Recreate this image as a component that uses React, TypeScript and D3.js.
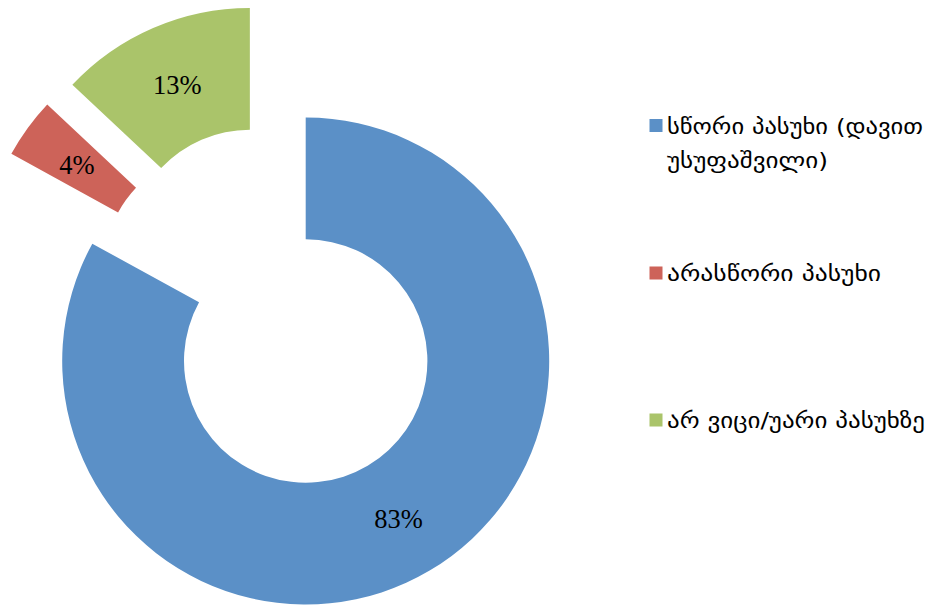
import React from "react";
import * as d3 from "d3";

const categories = ["სწორი პასუხი (დავით უსუფაშვილი)", "არასწორი პასუხი", "არ ვიცი/უარი პასუხზე"];
const legendLines = [["სწორი პასუხი (დავით", "უსუფაშვილი)"], ["არასწორი პასუხი"], ["არ ვიცი/უარი პასუხზე"]];
const values = [83, 4, 13];
const labels = ["83%", "4%", "13%"];
const colors = ["#5B90C7", "#CD6359", "#AAC46A"];
const explodeDist = [0, 121, 123];
const explodeAngleDeg = [0, 318, 333];
const legendTextLength = [[256, 161], [214], [258]];

const W = 937, H = 607;
const cx = 305.7, cy = 361;
const R = 243.5, r = 121.7;

export default function App() {
  const pie = d3.pie<number>().sort(null).value((d) => d)(values);
  const arc = d3.arc<d3.PieArcDatum<number>>().innerRadius(r).outerRadius(R);
  const legendY = [125.5, 273, 420];
  return (
    <svg width={W} height={H} style={{ position: "absolute", left: 0, top: 0, background: "#fff" }}>
      {pie.map((p, i) => {
        const a = (explodeAngleDeg[i] * Math.PI) / 180;
        const dx = explodeDist[i] * Math.sin(a);
        const dy = -explodeDist[i] * Math.cos(a);
        const [lx, ly] = arc.centroid(p);
        return (
          <g key={i} transform={`translate(${cx + dx},${cy + dy})`}>
            <path d={arc(p) || ""} fill={colors[i]} />
            <text x={lx} y={ly} dy="0.38em" textAnchor="middle" fontFamily="'Liberation Serif', serif" fontSize={26.5} fill="#000">
              {labels[i]}
            </text>
          </g>
        );
      })}
      {categories.map((c, i) => (
        <g key={c}>
          <rect x={649.5} y={legendY[i] - 6.5} width={13} height={13} fill={colors[i]} />
          {legendLines[i].map((line, j) => (
            <text
              key={j}
              x={667}
              y={legendY[i] + 8 + j * 34}
              fontFamily="'DejaVu Sans', sans-serif"
              fontSize={21}
              textLength={legendTextLength[i][j]}
              lengthAdjust="spacingAndGlyphs"
              fill="#000"
            >
              {line}
            </text>
          ))}
        </g>
      ))}
    </svg>
  );
}
